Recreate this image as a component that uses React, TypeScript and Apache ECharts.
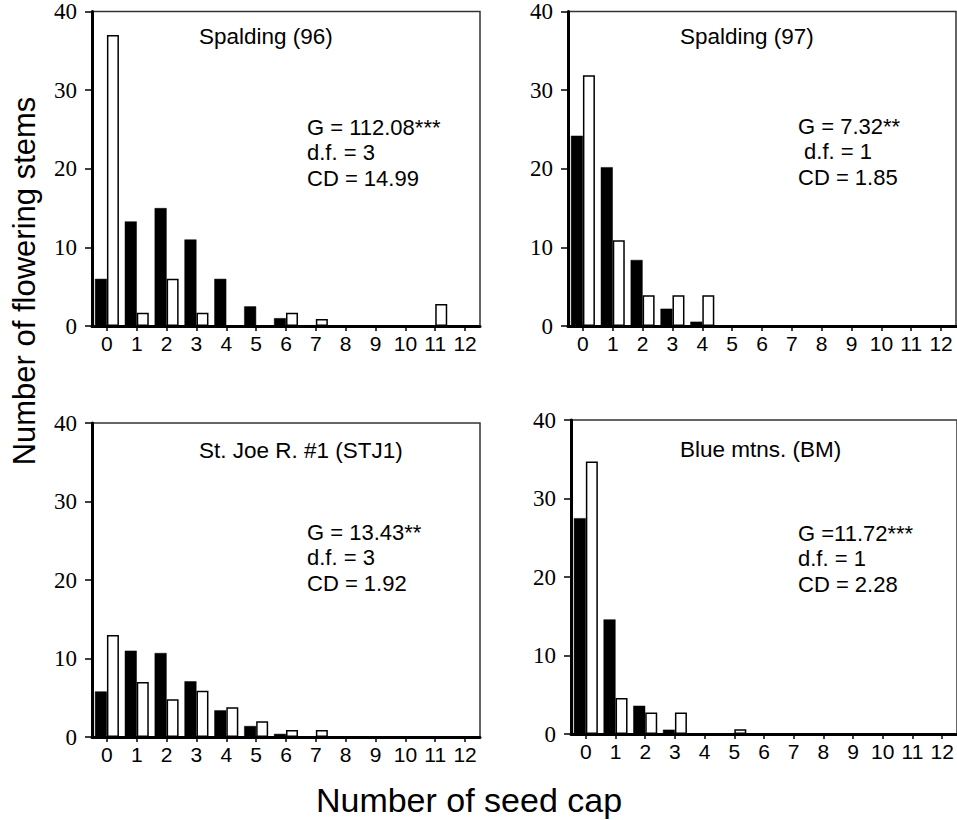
import React, { useEffect, useRef } from "react";
import * as echarts from "echarts";

const categories = ["0", "1", "2", "3", "4", "5", "6", "7", "8", "9", "10", "11", "12"];
const yTicks = [0, 10, 20, 30, 40];

const p1Black = [6, 13.3, 15, 11, 6, 2.5, 1, 0.1, 0, 0, 0, 0, 0];
const p1White = [37, 1.7, 6, 1.7, 0, 0, 1.7, 0.9, 0, 0, 0, 2.8, 0];
const p2Black = [24.2, 20.2, 8.4, 2.2, 0.55, 0, 0, 0, 0, 0, 0, 0, 0];
const p2White = [31.9, 10.9, 3.9, 3.9, 3.9, 0, 0, 0, 0, 0, 0, 0, 0];
const p3Black = [5.8, 11, 10.7, 7.1, 3.4, 1.4, 0.4, 0, 0, 0, 0, 0, 0];
const p3White = [13, 7, 4.8, 5.9, 3.8, 2, 0.9, 0.9, 0, 0, 0, 0, 0];
const p4Black = [27.5, 14.6, 3.6, 0.55, 0, 0, 0, 0, 0, 0, 0, 0, 0];
const p4White = [34.7, 4.6, 2.75, 2.75, 0, 0.6, 0, 0, 0, 0, 0, 0, 0];

const panelTitles = ["Spalding (96)", "Spalding (97)", "St. Joe R. #1 (STJ1)", "Blue mtns. (BM)"];
const panelStats = [
  ["G = 112.08***", "d.f. = 3", "CD = 14.99"],
  ["G = 7.32**", " d.f. = 1", "CD = 1.85"],
  ["G = 13.43**", "d.f. = 3", "CD = 1.92"],
  ["G =11.72***", "d.f. = 1", "CD = 2.28"],
];
const yAxisTitle = "Number of flowering stems";
const xAxisTitle = "Number of seed cap";

const grids = [
  { left: 92, top: 11, width: 388, height: 315 },
  { left: 568, top: 11, width: 388, height: 315 },
  { left: 92, top: 423, width: 388, height: 314 },
  { left: 571, top: 420, width: 386, height: 314 },
];
const titlePos = [
  { x: 199, y: 36 },
  { x: 680, y: 36 },
  { x: 199, y: 450 },
  { x: 680, y: 449 },
];
const statPos = [
  { x: 307, y: 127 },
  { x: 798, y: 126 },
  { x: 307, y: 532 },
  { x: 798, y: 533 },
];

const SANS = "'Liberation Sans', Arial, sans-serif";
const SERIF = "'Liberation Serif', 'Times New Roman', serif";

export default function App() {
  const ref = useRef<HTMLDivElement>(null);
  useEffect(() => {
    if (!ref.current) return;
    const chart = echarts.init(ref.current, undefined, { renderer: "svg" });
    const blacks = [p1Black, p2Black, p3Black, p4Black];
    const whites = [p1White, p2White, p3White, p4White];

    const gridOpt = grids.map((g) => ({
      ...g,
      show: true,
      borderColor: "#333",
      borderWidth: 1.5,
      backgroundColor: "transparent",
      containLabel: false,
    }));
    const xAxes = grids.map((_, i) => ({
      type: "category",
      gridIndex: i,
      data: categories,
      boundaryGap: true,
      axisLine: { show: true, lineStyle: { color: "#000", width: 3 } },
      axisTick: { show: true, alignWithLabel: true, length: 5, lineStyle: { color: "#000", width: 1.5 } },
      axisLabel: { color: "#000", fontSize: 21, fontFamily: SANS, margin: 7, interval: 0 },
      splitLine: { show: false },
    }));
    const yAxes = grids.map((_, i) => ({
      type: "value",
      gridIndex: i,
      min: 0,
      max: 40,
      interval: 10,
      axisLine: { show: true, lineStyle: { color: "#000", width: 3 } },
      axisTick: { show: true, length: 7, lineStyle: { color: "#000", width: 1.5 } },
      axisLabel: {
        color: "#000",
        fontSize: 23,
        fontFamily: SERIF,
        margin: 15,
        formatter: (v: number) => (yTicks.includes(v) ? String(v) : ""),
      },
      splitLine: { show: false },
    }));
    const series: any[] = [];
    for (let i = 0; i < 4; i++) {
      series.push({
        type: "bar",
        name: "black" + i,
        xAxisIndex: i,
        yAxisIndex: i,
        data: blacks[i],
        barWidth: 12,
        barGap: "0%",
        itemStyle: { color: "#000", borderColor: "#000", borderWidth: 0.5 },
      });
      series.push({
        type: "bar",
        name: "white" + i,
        xAxisIndex: i,
        yAxisIndex: i,
        data: whites[i],
        barWidth: 12,
        barGap: "0%",
        itemStyle: { color: "#fff", borderColor: "#000", borderWidth: 1.5 },
      });
    }

    const graphic: any[] = [];
    for (let i = 0; i < 4; i++) {
      graphic.push({
        type: "text",
        x: titlePos[i].x,
        y: titlePos[i].y,
        style: { text: panelTitles[i], fontSize: 22.5, fontFamily: SANS, fill: "#000", align: "left", verticalAlign: "middle" },
      });
      panelStats[i].forEach((line, j) => {
        graphic.push({
          type: "text",
          x: statPos[i].x,
          y: statPos[i].y + j * 25.5,
          style: { text: line, fontSize: 22, fontFamily: SANS, fill: "#000", align: "left", verticalAlign: "middle" },
        });
      });
    }
    graphic.push({
      type: "text",
      x: 24,
      y: 281,
      rotation: Math.PI / 2,
      style: { text: yAxisTitle, fontSize: 31, fontFamily: SANS, fill: "#000", align: "center", verticalAlign: "middle" },
    });
    graphic.push({
      type: "text",
      x: 469,
      y: 800,
      style: { text: xAxisTitle, fontSize: 34, fontFamily: SANS, fill: "#000", align: "center", verticalAlign: "middle" },
    });

    chart.setOption({
      animation: false,
      backgroundColor: "#fff",
      grid: gridOpt,
      xAxis: xAxes,
      yAxis: yAxes,
      series,
      graphic,
    });
    return () => chart.dispose();
  }, []);
  return (
    <div
      ref={ref}
      style={{ position: "absolute", left: 0, top: 0, width: 957, height: 820 }}
    />
  );
}
